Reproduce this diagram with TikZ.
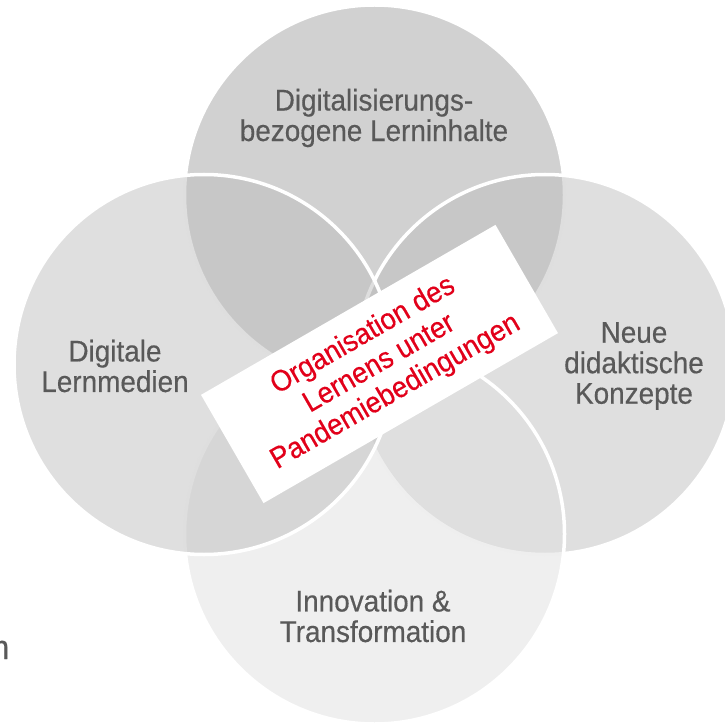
\documentclass[tikz,border=0pt]{standalone}
\usepackage{fontspec}
\setmainfont{Liberation Sans}[FakeStretch=0.93,FakeBold=0.4]
\definecolor{ctop}{RGB}{163,163,163}
\definecolor{cside}{RGB}{191,191,191}
\definecolor{cbot}{RGB}{223,223,223}
\definecolor{labelgray}{RGB}{89,89,89}
\definecolor{orgred}{RGB}{226,0,26}
\tikzset{
  venn/.style={fill opacity=0.5},
  ring/.style={draw=white, line width=3.5pt},
  lbl/.style={text=labelgray, align=center, inner sep=0pt,
    font=\fontsize{30}{30.5}\selectfont},
  orgbox/.style={fill=white, draw=none, rotate=30, minimum width=340pt,
    minimum height=125pt, inner sep=0pt, text=orgred, align=center,
    font=\fontsize{29.5}{32.5}\selectfont},
}
\begin{document}
\begin{tikzpicture}[x=1pt,y=-1pt]
\useasboundingbox (0,0) rectangle (724,727);
% circles: top, right, bottom, left
\coordinate (ctop) at (374.5,195);
\coordinate (cright) at (545,364.5);
\coordinate (cbot) at (374.5,534);
\coordinate (cleft) at (204,364.5);
\fill[ctop, venn] (ctop) circle[radius=190pt];
\draw[ring] (ctop) circle[radius=190pt];
\fill[cside, venn] (cright) circle[radius=190pt];
\draw[ring] (cright) circle[radius=190pt];
\fill[cbot, venn] (cbot) circle[radius=190pt];
\draw[ring] (cbot) circle[radius=190pt];
\fill[cside, venn] (cleft) circle[radius=190pt];
\draw[ring] (cleft) circle[radius=190pt];
% labels
\node[lbl] (ltop) at (374,118) {Digitalisierungs-\\bezogene Lerninhalte};
\node[lbl] (lleft) at (115,366) {Digitale\\Lernmedien};
\node[lbl] (lright) at (634,366) {Neue\\didaktische\\Konzepte};
\node[lbl] (lbot) at (373,616) {Innovation \&\\Transformation};
% central box
\node[orgbox] (org) at (379.5,364) {Organisation des\\Lernens unter\\Pandemiebedingungen};
% cut-off letter at left edge
\node[anchor=base west, inner sep=0pt, text=labelgray,
  font=\fontsize{34}{34}\selectfont] (cut) at (-8.5,659) {n};
\end{tikzpicture}
\end{document}
